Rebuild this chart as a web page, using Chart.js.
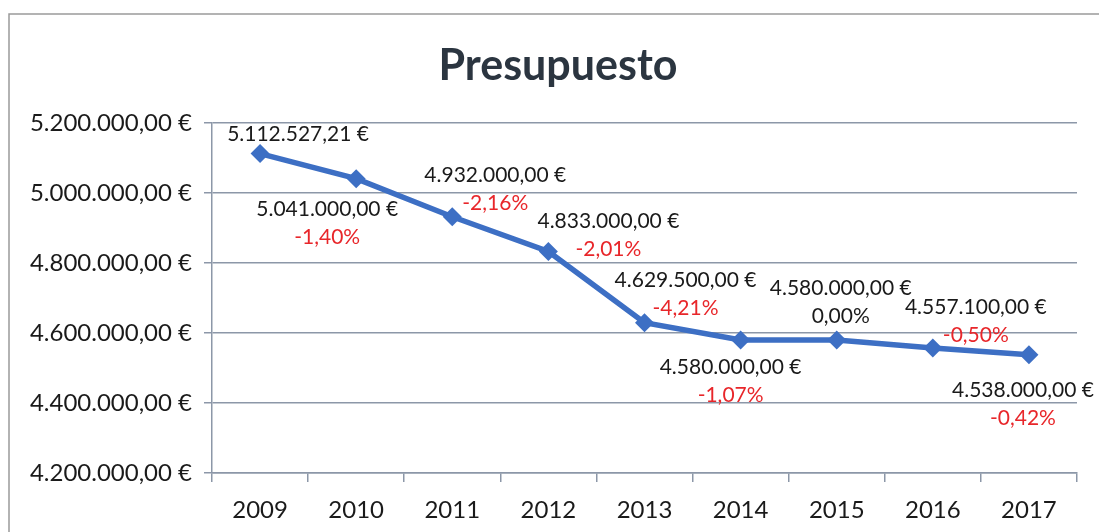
<!DOCTYPE html>
<html>
<head>
<meta charset="utf-8">
<script src="https://cdn.jsdelivr.net/npm/chart.js@4.4.1/dist/chart.umd.min.js"></script>
<style>
  html, body { margin: 0; padding: 0; background: #ffffff; }
  #wrap { width: 1099px; height: 532px; position: relative; }
</style>
</head>
<body>
<div id="wrap"><canvas id="c" width="1099" height="532"></canvas></div>
<script>
// ---- data ----
const years = ['2009', '2010', '2011', '2012', '2013', '2014', '2015', '2016', '2017'];
const budget = [5112527.21, 5041000, 4932000, 4833000, 4629500, 4580000, 4580000, 4557100, 4538000];
const changePct = [null, -1.40, -2.16, -2.01, -4.21, -1.07, 0.00, -0.50, -0.42];
const yTicks = [4200000, 4400000, 4600000, 4800000, 5000000, 5200000];
const chartTitle = 'Presupuesto';

// ---- label placement (offset of the value label centre from its point) ----
const labelOffsets = [[38, -19], [-29, 31], [43, -42], [60, -30], [41, -42], [-10, 27], [4, -52], [43, -41], [-6, 36]];

const FONT = 'Lato, "Open Sans", sans-serif';

function fmtEuro(v) {
  const parts = v.toFixed(2).split('.');
  const int = parts[0].replace(/\B(?=(\d{3})+(?!\d))/g, '.');
  return int + ',' + parts[1] + ' €';
}
function fmtPct(p) {
  return p.toFixed(2).replace('.', ',') + '%';
}

const framePlugin = {
  id: 'frame',
  beforeDraw(chart) {
    const ctx = chart.ctx;
    ctx.save();
    ctx.strokeStyle = '#9a9a9a';
    ctx.lineWidth = 1.5;
    ctx.beginPath();
    ctx.moveTo(9, 532);
    ctx.lineTo(9, 14);
    ctx.lineTo(1099, 14);
    ctx.stroke();
    ctx.fillStyle = '#2b3540';
    ctx.font = 'bold 43px ' + FONT;
    ctx.textAlign = 'center';
    ctx.textBaseline = 'alphabetic';
    ctx.fillText(chartTitle, 558, 80);
    ctx.restore();
  }
};

const labelPlugin = {
  id: 'pointLabels',
  afterDatasetsDraw(chart) {
    const ctx = chart.ctx;
    const meta = chart.getDatasetMeta(0);
    ctx.save();
    ctx.font = '21px ' + FONT;
    ctx.textAlign = 'center';
    ctx.textBaseline = 'middle';
    meta.data.forEach((pt, i) => {
      const [dx, dy] = labelOffsets[i];
      const x = pt.x + dx, y = pt.y + dy;
      ctx.fillStyle = '#1a1a1a';
      ctx.fillText(fmtEuro(budget[i]), x, y);
      if (changePct[i] !== null) {
        ctx.fillStyle = changePct[i] < 0 ? '#e8262a' : '#1a1a1a';
        ctx.fillText(fmtPct(changePct[i]), x, y + 28);
      }
    });
    ctx.restore();
  }
};

new Chart(document.getElementById('c'), {
  type: 'line',
  data: {
    labels: years,
    datasets: [{
      data: budget,
      borderColor: '#3d6fc4',
      backgroundColor: '#3d6fc4',
      borderWidth: 5.5,
      pointStyle: 'rectRot',
      pointRadius: 9.5,
      pointHoverRadius: 9.5,
      pointBorderWidth: 0,
      tension: 0,
      fill: false
    }]
  },
  options: {
    responsive: false,
    animation: false,
    events: [],
    layout: { padding: { top: 123, right: 22, bottom: 0, left: 0 } },
    plugins: {
      legend: { display: false },
      title: { display: false },
      tooltip: { enabled: false }
    },
    scales: {
      x: {
        offset: true,
        grid: {
          display: true,
          offset: true,
          drawOnChartArea: false,
          drawTicks: true,
          tickLength: 9,
          color: '#8c97a8',
          lineWidth: 1.5
        },
        border: { display: true, color: '#8c97a8', width: 1.5 },
        ticks: {
          color: '#1a1a1a',
          font: { family: FONT, size: 24 },
          padding: 14
        },
        afterFit(axis) { axis.height = 59; }
      },
      y: {
        min: 4200000,
        max: 5200000,
        afterBuildTicks(axis) { axis.ticks = yTicks.map(v => ({ value: v })); },
        grid: {
          color: '#8c97a8',
          lineWidth: 1.5,
          drawTicks: true,
          tickLength: 8
        },
        border: { display: true, color: '#8c97a8', width: 1.5 },
        ticks: {
          color: '#1a1a1a',
          font: { family: FONT, size: 24 },
          padding: 12,
          callback: (v) => fmtEuro(v)
        },
        afterFit(axis) { axis.width = 212; }
      }
    }
  },
  plugins: [framePlugin, labelPlugin]
});
</script>
</body>
</html>
